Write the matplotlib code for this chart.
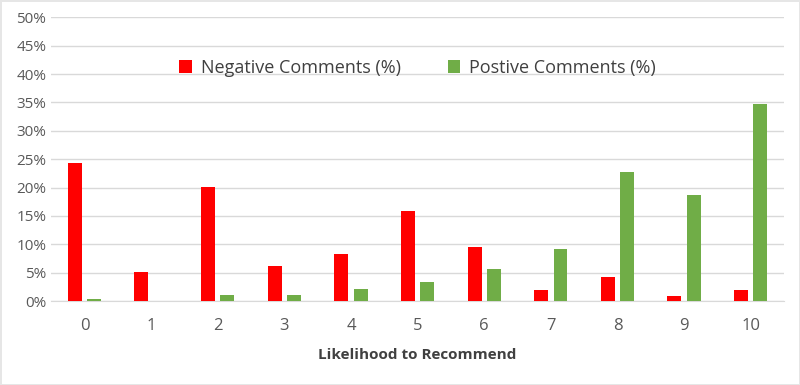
import numpy as np
import matplotlib.pyplot as plt
from matplotlib.ticker import PercentFormatter

categories = ['0', '1', '2', '3', '4', '5', '6', '7', '8', '9', '10']
negative = [24.3, 5.2, 20.1, 6.2, 8.3, 15.9, 9.5, 2.0, 4.2, 0.95, 2.0]
positive = [0.4, 0.0, 1.05, 1.05, 2.2, 3.35, 5.7, 9.1, 22.8, 18.7, 34.7]

plt.rcParams['font.family'] = ['Open Sans', 'DejaVu Sans']

fig = plt.figure(figsize=(8, 3.85), dpi=100)
fig.patch.set_facecolor('white')
fig.patch.set_edgecolor('#e6e6e6')
fig.patch.set_linewidth(2)
ax = fig.add_axes([0.064, 0.218, 0.916, 0.737])

x = np.arange(len(categories))
w = 0.21
ax.bar(x - 0.145, negative, w, color='#ff0000', label='Negative Comments (%)', zorder=3)
ax.bar(x + 0.145, positive, w, color='#70ad47', label='Postive Comments (%)', zorder=3)

ax.set_xlim(-0.5, len(categories) - 0.5)
ax.set_ylim(0, 50)
ax.set_yticks(np.arange(0, 51, 5))
ax.yaxis.set_major_formatter(PercentFormatter(decimals=0))
ax.set_xticks(x)
ax.set_xticklabels(categories)
ax.tick_params(axis='both', length=0, labelsize=11, colors='#595959')
ax.tick_params(axis='x', pad=12, labelsize=12)
ax.grid(axis='y', color='#d9d9d9', linewidth=1, zorder=0)
for s in ['top', 'right', 'left']:
    ax.spines[s].set_visible(False)
ax.spines['bottom'].set_color('#d9d9d9')

ax.set_xlabel('Likelihood to Recommend', fontsize=11, fontweight='bold', color='#404040', labelpad=10)

ax.legend(loc='upper center', bbox_to_anchor=(0.5, 0.91), ncol=2, frameon=False,
          fontsize=13, handlelength=0.7, handleheight=0.7, columnspacing=2.6,
          handletextpad=0.5, labelcolor='#404040')

fig.savefig('out.png')
